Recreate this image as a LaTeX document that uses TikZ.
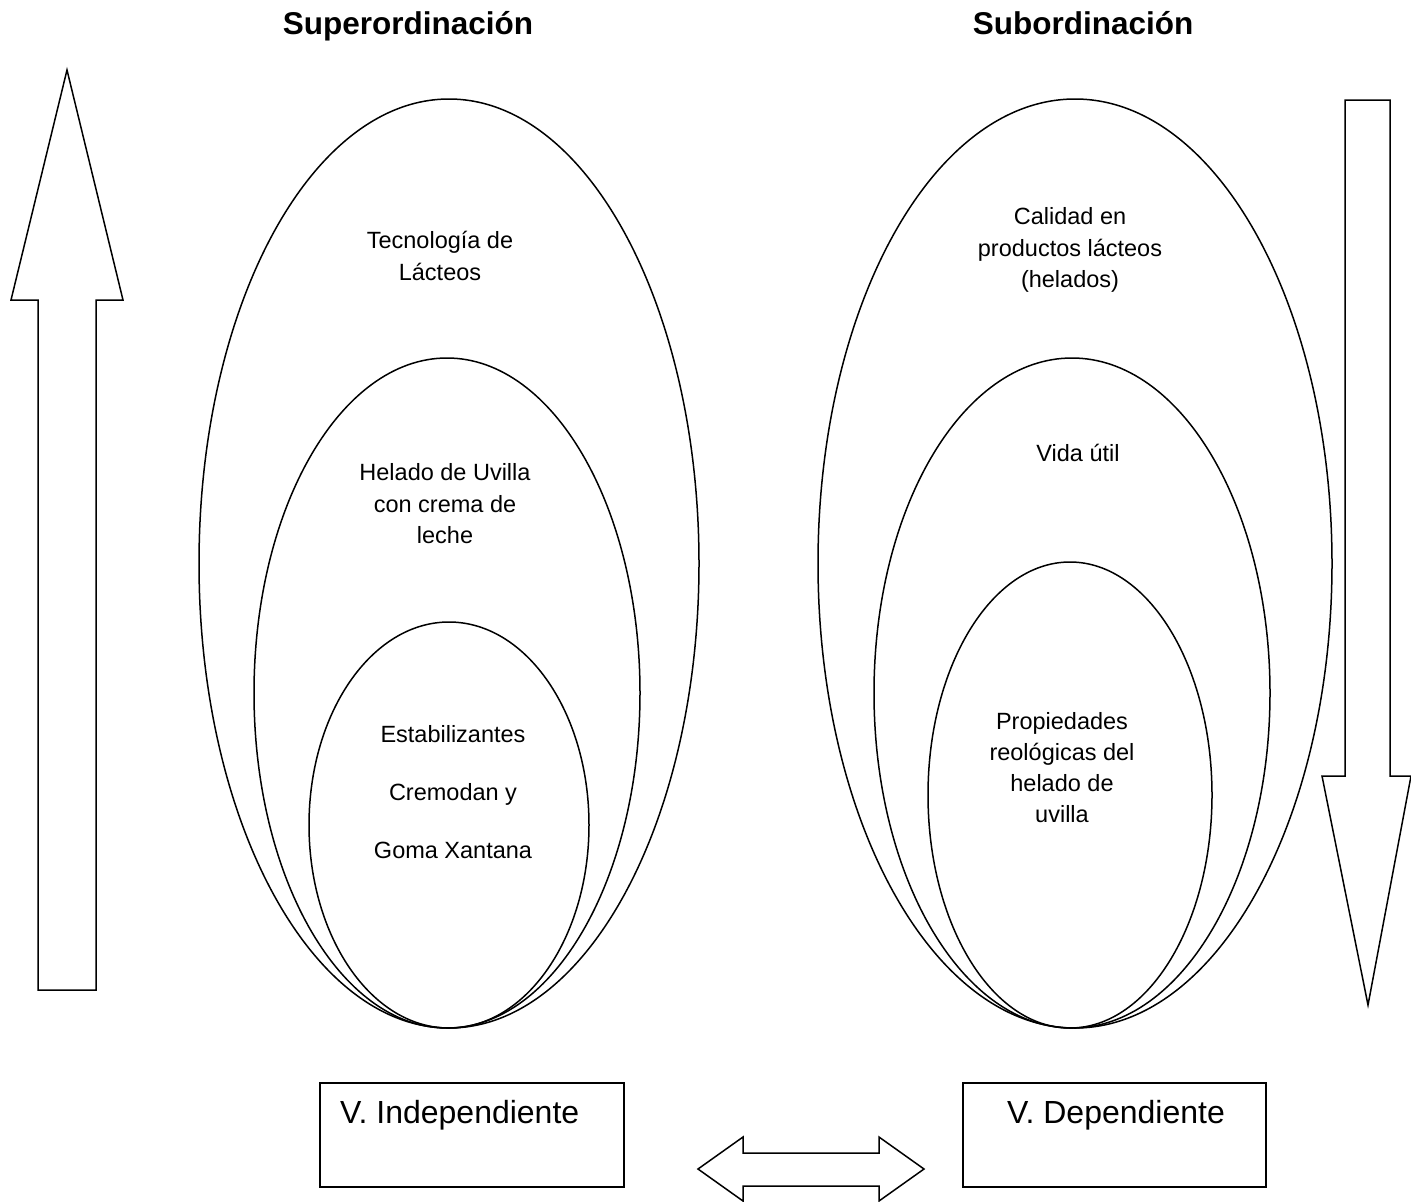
\documentclass[tikz,border=0pt]{standalone}
\usepackage{fontspec}
\setmainfont{Liberation Sans}
\usetikzlibrary{shapes.geometric}
\begin{document}
\begin{tikzpicture}[x=1pt,y=-1pt,
  oval/.style={draw,ellipse,line width=1.5pt,inner sep=0pt},
  body/.style={align=center,inner sep=0pt,font=\fontsize{23.5}{31.5}\selectfont},
  ttl/.style={inner sep=0pt,anchor=base,font=\fontsize{31.5}{34}\selectfont\bfseries},
  vbox/.style={draw,line width=1.5pt,inner sep=0pt},
  vtext/.style={inner sep=0pt,font=\fontsize{32}{36}\selectfont},
  bigarrow/.style={draw,line width=1.5pt,line join=miter,fill=white}]
\path[use as bounding box] (0,0) rectangle (1411,1202);
% titles
\node[ttl] (t1) at (408,34) {Superordinación};
\node[ttl] (t2) at (1083,34) {Subordinación};
% big arrows
\draw[bigarrow] (67,70) -- (123,300) -- (96,300) -- (96,990) -- (38,990) -- (38,300) -- (11,300) -- cycle;
\draw[bigarrow] (1345,100) -- (1390,100) -- (1390,776) -- (1411,776) -- (1368,1005) -- (1322,776) -- (1345,776) -- cycle;
% left ellipses
\node[oval,minimum width=500,minimum height=929] (lo) at (449,563.5) {};
\node[oval,minimum width=386,minimum height=670] (lm) at (447,693) {};
\node[oval,minimum width=280,minimum height=406] (li) at (449,825) {};
% right ellipses
\node[oval,minimum width=514,minimum height=929] (ro) at (1075,563.5) {};
\node[oval,minimum width=396,minimum height=670] (rm) at (1072,693) {};
\node[oval,minimum width=284,minimum height=466] (ri) at (1070,795) {};
% texts
\node[body] (tx1) at (440,256) {Tecnología de\\Lácteos};
\node[body] (tx2) at (445,504) {Helado de Uvilla\\con crema de\\leche};
\node[body,font=\fontsize{23.5}{58}\selectfont] (tx3) at (453,792) {Estabilizantes\\Cremodan y\\Goma Xantana};
\node[body] (tx4) at (1070,250) {Calidad en\\productos lácteos\\(helados)};
\node[body] (tx5) at (1078,453) {Vida útil};
\node[body,font=\fontsize{23.5}{31}\selectfont] (tx6) at (1062,768) {Propiedades\\reológicas del\\helado de\\uvilla};
% boxes
\node[vbox,minimum width=304,minimum height=104] (bi) at (472,1135) {};
\node[vtext,anchor=west] (bit) at (340,1115) {V. Independiente};
\node[vbox,minimum width=303,minimum height=104] (bd) at (1114.5,1135) {};
\node[vtext] (bdt) at (1116,1115) {V. Dependiente};
% double arrow
\draw[bigarrow] (698,1169) -- (743,1137) -- (743,1153) -- (879,1153) -- (879,1137) -- (924,1169) -- (879,1201) -- (879,1186) -- (743,1186) -- (743,1201) -- cycle;
\end{tikzpicture}
\end{document}
